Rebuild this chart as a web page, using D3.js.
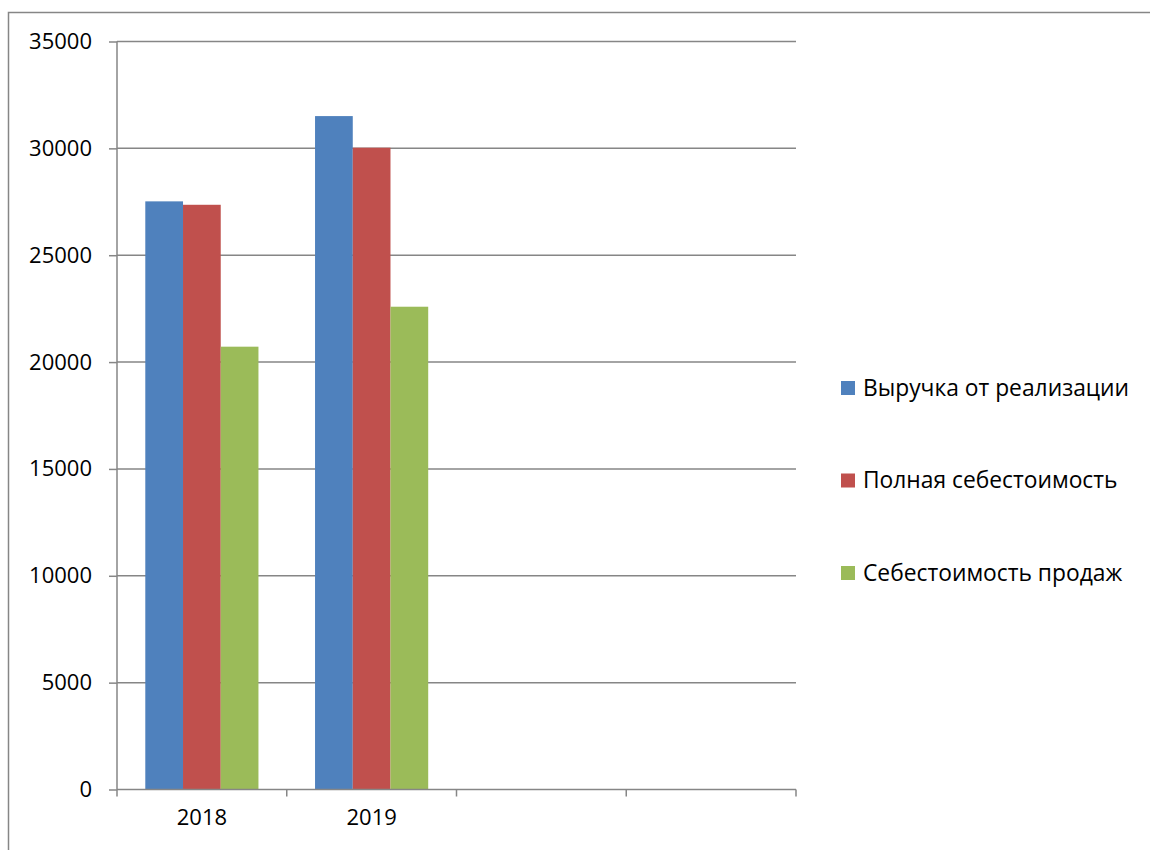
<!DOCTYPE html>
<html><head><meta charset="utf-8">
<script src="https://cdn.jsdelivr.net/npm/d3@7"></script>
<style>body{margin:0;background:#fff}svg{display:block}text{font-family:"Open Sans",sans-serif;fill:#000}</style>
</head><body>
<svg id="c" width="1150" height="850"></svg>
<script>
const categories = ["2018", "2019", "", ""];
const seriesNames = ["Выручка от реализации", "Полная себестоимость", "Себестоимость продаж"];
const revenue = [27520, 31510];
const fullCost = [27360, 30030];
const salesCost = [20720, 22590];
const yTicks = [0, 5000, 10000, 15000, 20000, 25000, 30000, 35000];
const colors = ["#4F81BD", "#C0504D", "#9BBB59"];

const series = [revenue, fullCost, salesCost];
const svg = d3.select("#c");
const m = {left: 117, right: 796, top: 41.5, bottom: 789.5};

// outer frame
svg.append("rect").attr("x", 8.5).attr("y", 12.5).attr("width", 1200).attr("height", 900)
  .attr("fill", "none").attr("stroke", "#868686").attr("stroke-width", 1.5);

const x = d3.scaleBand().domain(categories.map((c, i) => i)).range([m.left, m.right]).paddingInner(0).paddingOuter(0);
const y = d3.scaleLinear().domain([0, 35000]).range([m.bottom, m.top]);

// gridlines
svg.append("g").selectAll("line").data(yTicks.filter(t => t > 0)).join("line")
  .attr("x1", m.left).attr("x2", m.right).attr("y1", d => y(d)).attr("y2", d => y(d))
  .attr("stroke", "#868686").attr("stroke-width", 1.5);

// bars
const bw = x.bandwidth();
const inner = d3.scaleBand().domain([0, 1, 2]).range([0, bw]).paddingOuter(0.75).paddingInner(0);
const g = svg.append("g");
series.forEach((s, si) => {
  g.selectAll(".b" + si).data(s).join("rect")
    .attr("x", (d, i) => x(i) + inner(si))
    .attr("width", inner.bandwidth())
    .attr("y", d => y(d))
    .attr("height", d => y(0) - y(d))
    .attr("fill", colors[si]);
});

// y axis
const ya = svg.append("g").attr("transform", `translate(${m.left},0)`)
  .call(d3.axisLeft(y).tickValues(yTicks).tickSize(8).tickPadding(17).tickFormat(d3.format("d")));
ya.select(".domain").attr("stroke", "#868686").attr("stroke-width", 1.5).attr("d", `M0,${m.top}V${m.bottom}`);
ya.selectAll(".tick line").attr("stroke", "#868686").attr("stroke-width", 1.5);
ya.selectAll(".tick text").attr("font-size", 22).attr("font-family", "Open Sans").attr("fill", "#000");

// x axis
const xa = svg.append("g").attr("transform", `translate(0,${m.bottom})`)
  .call(d3.axisBottom(x).tickFormat(i => categories[i]).tickSize(0).tickPadding(20));
xa.select(".domain").attr("stroke", "#868686").attr("stroke-width", 1.5).attr("d", `M${m.left},0H${m.right}`);
xa.selectAll(".tick text").attr("font-size", 22).attr("font-family", "Open Sans").attr("fill", "#000");
svg.append("g").selectAll("line").data(d3.range(categories.length + 1)).join("line")
  .attr("x1", i => m.left + i * bw).attr("x2", i => m.left + i * bw)
  .attr("y1", m.bottom).attr("y2", m.bottom + 7)
  .attr("stroke", "#868686").attr("stroke-width", 1.5);

// legend
const lg = svg.append("g").attr("transform", "translate(841,388)");
seriesNames.forEach((n, i) => {
  const r = lg.append("g").attr("transform", `translate(0,${i * 92.5})`);
  r.append("rect").attr("x", 0).attr("y", -7).attr("width", 14).attr("height", 14).attr("fill", colors[i]);
  r.append("text").attr("x", 22).attr("y", 0).attr("dy", "0.35em").attr("font-size", 22.8).text(n);
});
</script>
</body></html>
